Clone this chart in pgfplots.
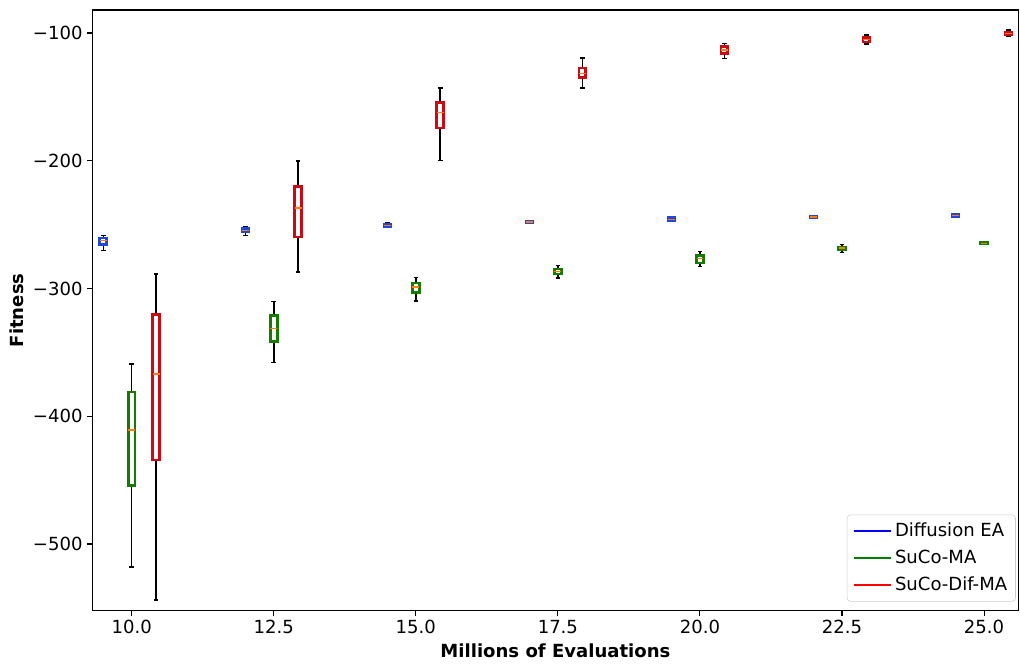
\documentclass[border=0pt]{standalone}
\usepackage{fontspec}
\setmainfont{DejaVu Sans}
\usepackage{pgfplots}
\usepgfplotslibrary{statistics}
\pgfplotsset{compat=1.18}

\definecolor{deaBlue}{RGB}{30,70,225}
\definecolor{sucoGreen}{RGB}{20,125,0}
\definecolor{difRed}{RGB}{205,10,20}
\definecolor{medOrange}{RGB}{255,127,14}
\definecolor{legGreen}{RGB}{0,128,0}

% one prepared box: colour, position, lower whisker, Q1, median, Q3, upper whisker
\newcommand{\fitbox}[7]{%
  \addplot[forget plot, draw=#1,
    boxplot prepared={draw position=#2,
      lower whisker=#3, lower quartile=#4, median=#5,
      upper quartile=#6, upper whisker=#7}]
    coordinates {};}

\newcommand{\lblfont}{\fontsize{13}{15.5}\selectfont}

\begin{document}
\begin{tikzpicture}
\begin{axis}[
  scale only axis,
  width=666.9pt, height=432.5pt,
  xmin=9.307, xmax=25.607,
  ymin=-552.2, ymax=-82.0,
  xtick={10,12.5,15,17.5,20,22.5,25},
  xticklabels={10.0,12.5,15.0,17.5,20.0,22.5,25.0},
  ytick={-500,-400,-300,-200,-100},
  yticklabels={−500,−400,−300,−200,−100},
  tick pos=left,
  tick align=outside,
  major tick length=3.5pt,
  tick style={black, line width=0.8pt},
  axis line style={line width=0.8pt},
  ticklabel style={font=\lblfont},
  xlabel={Millions of Evaluations},
  ylabel={Fitness},
  label style={font=\lblfont\bfseries},
  xlabel style={at={(axis description cs:0.5,-0.067)}, anchor=center},
  ylabel style={at={(axis description cs:-0.082,0.5)}, anchor=center},
  boxplot/draw direction=y,
  boxplot/box extend=0.12,
  boxplot/whisker extend=0.08,
  boxplot/every box/.style={line width=2pt},
  boxplot/every median/.style={draw=medOrange, line width=1pt},
  boxplot/every whisker/.style={draw=black, line width=1.1pt},
  legend image code/.code={\draw[#1, line width=1.5pt] (0pt,0pt) -- (27pt,0pt);},
  legend cell align=left,
  legend style={at={(1,0)}, anchor=south east, xshift=-2pt, yshift=6.5pt,
    draw={rgb,255:red,204;green,204;blue,204}, rounded corners=2.5pt,
    font=\lblfont, inner xsep=4pt, inner ysep=4pt, row sep=4.2pt,
    /tikz/every even column/.append style={column sep=5pt}},
]

% Diffusion EA
\fitbox{deaBlue}{9.5}{-270.4}{-265.7}{-262.6}{-260.5}{-258.4}
\fitbox{deaBlue}{12.0}{-258.6}{-255.8}{-254.5}{-253.2}{-251.6}
\fitbox{deaBlue}{14.5}{-251.8}{-251.2}{-250.5}{-250.0}{-248.8}
\fitbox{deaBlue}{17.0}{-248.9}{-248.4}{-247.9}{-247.4}{-246.9}
\fitbox{deaBlue}{19.5}{-247.4}{-246.9}{-245.8}{-244.7}{-244.3}
\fitbox{deaBlue}{22.0}{-244.8}{-244.4}{-244.0}{-243.6}{-243.3}
\fitbox{deaBlue}{24.5}{-244.0}{-243.5}{-242.8}{-242.0}{-241.6}

% SuCo-MA
\fitbox{sucoGreen}{10.0}{-517.8}{-454.0}{-410.8}{-381.0}{-359.1}
\fitbox{sucoGreen}{12.5}{-358.1}{-341.3}{-331.2}{-321.0}{-310.3}
\fitbox{sucoGreen}{15.0}{-309.8}{-303.0}{-298.8}{-295.7}{-291.3}
\fitbox{sucoGreen}{17.5}{-291.8}{-288.6}{-286.6}{-284.7}{-282.1}
\fitbox{sucoGreen}{20.0}{-282.6}{-280.0}{-276.7}{-274.0}{-271.2}
\fitbox{sucoGreen}{22.5}{-272.0}{-269.3}{-268.3}{-267.5}{-265.4}
\fitbox{sucoGreen}{25.0}{-265.7}{-265.2}{-264.6}{-264.1}{-263.7}

% SuCo-Dif-MA
\fitbox{difRed}{10.43}{-543.8}{-434.3}{-366.9}{-320.5}{-288.6}
\fitbox{difRed}{12.93}{-287.1}{-259.7}{-237.0}{-220.0}{-200.0}
\fitbox{difRed}{15.43}{-199.7}{-174.4}{-162.4}{-154.5}{-143.0}
\fitbox{difRed}{17.93}{-143.1}{-135.0}{-131.6}{-127.4}{-119.6}
\fitbox{difRed}{20.43}{-119.8}{-116.2}{-113.3}{-110.4}{-108.1}
\fitbox{difRed}{22.93}{-108.6}{-107.0}{-104.9}{-103.4}{-101.6}
\fitbox{difRed}{25.43}{-102.9}{-101.3}{-100.3}{-99.5}{-97.7}

\addlegendimage{blue}
\addlegendentry{Diffusion EA}
\addlegendimage{legGreen}
\addlegendentry{SuCo-MA}
\addlegendimage{red}
\addlegendentry{SuCo-Dif-MA}

\coordinate (sw) at (rel axis cs:0,0);
\end{axis}
\pgfresetboundingbox
\path (sw) ++(-66.46pt,-37.66pt) rectangle ++(734.4pt,477.36pt);
\end{tikzpicture}
\end{document}
